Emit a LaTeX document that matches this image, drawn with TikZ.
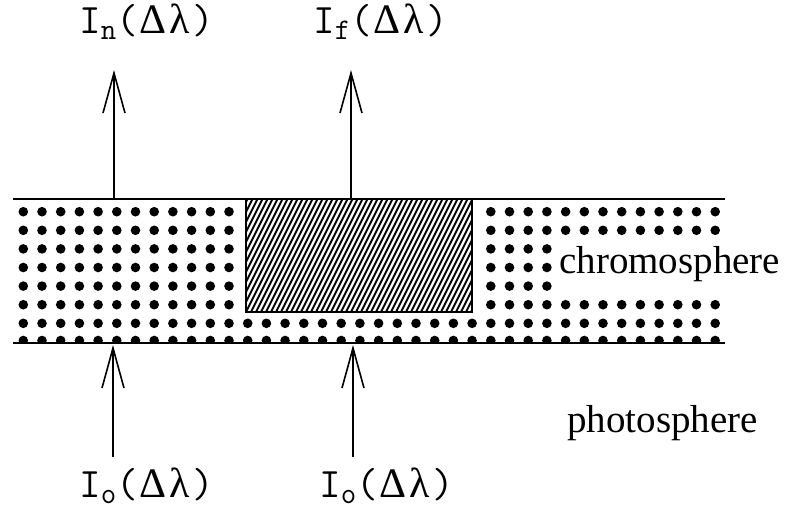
\documentclass[tikz,border=0pt]{standalone}
\usepackage{fontspec}
\setmainfont{Liberation Serif}
\newfontfamily\greekfont{Liberation Serif}
\usetikzlibrary{arrows.meta}
\newcommand{\lowsub}[1]{\raisebox{-6pt}{\fontsize{30}{30}\selectfont #1}}
\newcommand{\dlam}{\hspace{2pt}{\greekfont Δ\hspace{3pt}λ}\hspace{2pt}}

\begin{document}
\begin{tikzpicture}[
        x=1pt, y=-1pt,
        layer/.style = {draw=black, line width=1.8pt},
        dot/.style = {fill=black},
        hatchline/.style = {draw=black, line width=2pt},
        flux/.style = {inner sep=0pt, anchor=base west, font=\ttfamily\fontsize{42}{46}\selectfont},
        zone/.style = {inner sep=0pt, anchor=base west, font=\fontsize{39}{44}\selectfont},
        ray/.style = {draw=black, line width=1.8pt, -{Straight Barb[length=40pt, width=22pt, line width=1.6pt]}}
    ]
        \useasboundingbox (0,0) rectangle (790,514);

        \begin{scope}
            \clip (13,199) rectangle (725,343);
            \foreach \r in {0,...,5} {
                \foreach \k in {0,...,11} \fill [dot] (23.3+18.7*\k, 211.7+18.6*\r) circle (4.8);
            }
            \foreach \r in {0,1,5} {
                \foreach \k in {25,...,37} \fill [dot] (23.3+18.7*\k, 211.7+18.6*\r) circle (4.8);
            }
            \foreach \r in {2,3,4} {
                \foreach \k in {25,...,28} \fill [dot] (23.3+18.7*\k, 211.7+18.6*\r) circle (4.8);
            }
            \foreach \k in {0,...,37} {
                \fill [dot] (23.3+18.7*\k, 323.3) circle (4.8);
                \fill [dot] (23.3+18.7*\k, 340.5) circle (4.8);
            }
        \end{scope}

        \begin{scope}
            \clip (246,199) rectangle (472,312);
            \foreach \x in {186,191,...,476} \draw [hatchline] (\x,312) -- ++(57,-114);
        \end{scope}
        \draw [layer] (246,199) rectangle (472,312);

        \draw [layer] (13,199) -- (725,199);
        \draw [layer] (13,343) -- (725,343);

        \node (chromo) [zone] at (559,273) {chromosphere};
        \node (photo) [zone] at (567,432) {photosphere};

        \node (In) [flux] at (79,33) {I\lowsub{n}(\dlam)};
        \node (If) [flux] at (313,33) {I\lowsub{f}(\dlam)};
        \node (Ileft) [flux] at (79,497) {I\lowsub{o}(\dlam)};
        \node (Iright) [flux] at (319,497) {I\lowsub{o}(\dlam)};

        \coordinate (nbase) at (114,199);
        \coordinate (ntip) at (114,70);
        \coordinate (fbase) at (351,199);
        \coordinate (ftip) at (351,70);
        \coordinate (lbase) at (113,457);
        \coordinate (ltip) at (113,345);
        \coordinate (rbase) at (353,457);
        \coordinate (rtip) at (353,345);

        \draw [ray] (nbase) -- (ntip);
        \draw [ray] (fbase) -- (ftip);
        \draw [ray] (lbase) -- (ltip);
        \draw [ray] (rbase) -- (rtip);

    \end{tikzpicture}
\end{document}
